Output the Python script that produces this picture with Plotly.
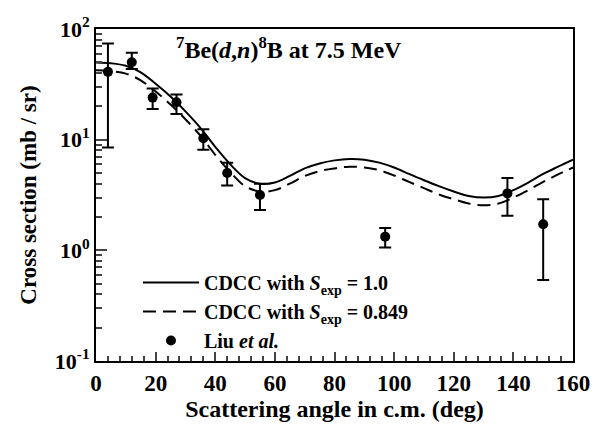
import numpy as np
import plotly.graph_objects as go

# Theory curves (CDCC)
theta = [0, 5, 10, 15, 20, 25, 30, 35, 40, 45, 50, 55, 60, 65, 70, 75, 80,
         85, 90, 95, 100, 105, 110, 115, 120, 125, 130, 135, 140, 145, 150, 155, 160]
sigma_s10 = [49.8, 49.0, 46.5, 40.5, 32, 24.5, 18, 12.8, 8.6, 6.0, 4.5, 4.0, 4.1, 4.7, 5.5, 6.1, 6.5,
             6.7, 6.6, 6.2, 5.6, 4.9, 4.3, 3.8, 3.4, 3.1, 3.0, 3.1, 3.5, 4.1, 4.9, 5.7, 6.6]
sigma_s0849 = [42.3, 41.6, 39.5, 34.4, 27.2, 20.8, 15.3, 10.9, 7.3, 5.1, 3.8, 3.4, 3.5, 4.0, 4.7, 5.2, 5.5,
               5.7, 5.6, 5.3, 4.75, 4.15, 3.65, 3.2, 2.9, 2.65, 2.55, 2.65, 3.0, 3.5, 4.15, 4.85, 5.6]

# Liu et al. data
exp_x = [4, 12, 19, 27, 36, 44, 55, 97, 138, 150]
exp_y = [41, 50, 24, 21.8, 10.3, 5.0, 3.16, 1.33, 3.27, 1.72]
exp_hi = [74, 61, 29, 25.6, 12.4, 6.2, 4.0, 1.59, 4.5, 2.9]
exp_lo = [8.5, 43.5, 18.9, 17.1, 8.1, 3.85, 2.31, 1.06, 2.05, 0.54]

ytick_vals = [0.1, 1, 10, 100]
ytick_text = ["10<sup>-1</sup>", "10<sup>0</sup>", "10<sup>1</sup>", "10<sup>2</sup>"]
xtick_vals = [0, 20, 40, 60, 80, 100, 120, 140, 160]

FONT = "Liberation Serif, Times New Roman, serif"

fig = go.Figure()
fig.add_trace(go.Scatter(x=theta, y=sigma_s10, mode="lines", line=dict(color="black", width=2, shape="spline"),
                         name="CDCC with <i>S</i><sub>exp</sub> = 1.0", legendgroup="a"))
fig.add_trace(go.Scatter(x=theta, y=sigma_s0849, mode="lines",
                         line=dict(color="black", width=2, shape="spline", dash="13px,7px"),
                         name="CDCC with <i>S</i><sub>exp</sub> = 0.849", legendgroup="b"))
ey = np.array(exp_y)
fig.add_trace(go.Scatter(x=exp_x, y=exp_y, mode="markers",
                         marker=dict(color="black", size=10),
                         error_y=dict(type="data", symmetric=False,
                                      array=np.array(exp_hi) - ey, arrayminus=ey - np.array(exp_lo),
                                      color="black", thickness=2, width=6),
                         name="Liu <i>et al.</i>", legendgroup="c"))

fig.add_annotation(x=26.3, xref="x", xanchor="left", y=0.944, yref="paper", yanchor="middle",
                   text="<sup>7</sup>Be(<i>d</i>,<i>n</i>)<sup>8</sup>B at 7.5 MeV", showarrow=False,
                   font=dict(size=24, family=FONT, color="black", weight="bold"))

fig.update_layout(
    width=602, height=430,
    margin=dict(l=96, r=24, t=29, b=61),
    plot_bgcolor="white", paper_bgcolor="white",
    font=dict(family=FONT, color="black", size=20, weight="bold"),
    showlegend=True,
    legend=dict(x=0.088, y=0.295, xanchor="left", yanchor="top", bgcolor="rgba(0,0,0,0)",
                font=dict(size=20, family=FONT, weight="bold"), tracegroupgap=0,
                itemwidth=56),
    xaxis=dict(range=[0, 160], tickvals=xtick_vals, ticks="inside", ticklen=9, tickwidth=2,
               showline=True, linewidth=2, linecolor="black", mirror=True, showgrid=False, zeroline=False,
               tickfont=dict(size=23), minor=dict(dtick=4, ticks="inside", ticklen=5, tickwidth=1.5, showgrid=False),
               title=dict(text="Scattering angle in c.m. (deg)", font=dict(size=24), standoff=6)),
    yaxis=dict(type="log", range=[-1, 2], tickvals=ytick_vals, ticktext=ytick_text, ticks="inside",
               ticklen=11, tickwidth=2, showline=True, linewidth=2, linecolor="black", mirror=True,
               showgrid=False, zeroline=False, tickfont=dict(size=22),
               minor=dict(dtick="D1", ticks="inside", ticklen=6, tickwidth=1.5, showgrid=False),
               title=dict(text="Cross section (mb / sr)", font=dict(size=23), standoff=12)),
)

fig.write_html("out.html")
